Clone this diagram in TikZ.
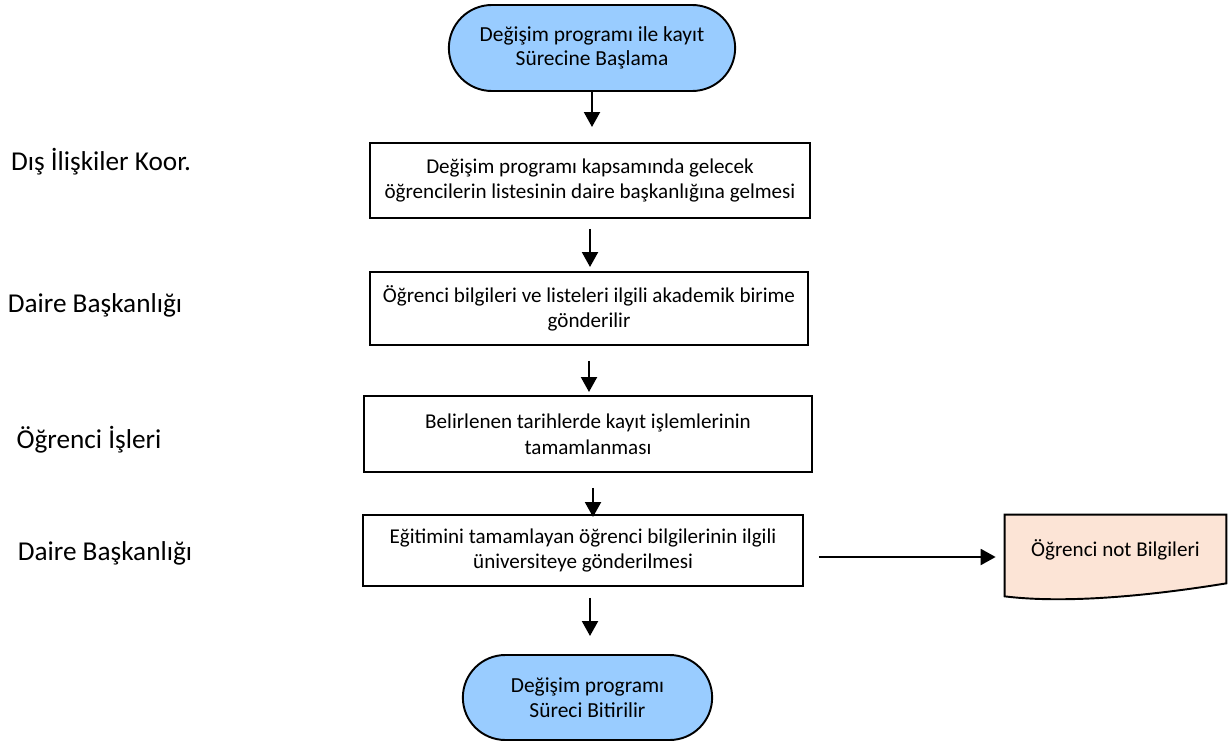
\documentclass[tikz,border=0pt]{standalone}
\usepackage{fontspec}
\setmainfont{Carlito}
\usepackage{tikz}
\usetikzlibrary{arrows.meta,backgrounds,shapes.misc}

\definecolor{termblue}{RGB}{153,204,255}
\definecolor{docpeach}{RGB}{252,228,214}

\begin{document}
\begin{tikzpicture}[
        terminal/.style={draw, line width=1.1pt, fill=termblue, rounded rectangle, align=center,
            font=\fontsize{12.2}{14}\selectfont},
        stepbox/.style={draw, line width=1.1pt, align=center, font=\fontsize{12}{14.6}\selectfont},
        lanelabel/.style={font=\fontsize{15.5}{18}\selectfont},
        flow/.style={line width=1.4pt, -{Triangle[width=9pt,length=8.5pt]}}
    ]
        \useasboundingbox (0,0) rectangle (24.58,-14.84);

        % lanes
        \node[lanelabel] (lab1) at (2.02, -3.24) {Dış İlişkiler Koor.};
        \node[lanelabel] (lab2) at (1.90, -6.10) {Daire Başkanlığı};
        \node[lanelabel] (lab3) at (1.78, -8.80) {Öğrenci İşleri};
        \node[lanelabel] (lab4) at (2.10, -11.06) {Daire Başkanlığı};

        % steps
        \node[terminal, minimum width=5.96cm, minimum height=1.72cm] (start) at (11.84, -0.96)
            {Değişim programı ile kayıt\\Sürecine Başlama};
        \node[stepbox, minimum width=8.8cm, minimum height=1.5cm] (s1) at (11.80, -3.61)
            {Değişim programı kapsamında gelecek\\öğrencilerin listesinin daire başkanlığına gelmesi};
        \node[stepbox, minimum width=8.76cm, minimum height=1.46cm] (s2) at (11.78, -6.17)
            {Öğrenci bilgileri ve listeleri ilgili akademik birime\\gönderilir};
        \node[stepbox, minimum width=8.96cm, minimum height=1.52cm] (s3) at (11.76, -8.68)
            {Belirlenen tarihlerde kayıt işlemlerinin\\tamamlanması};
        \node[stepbox, minimum width=8.8cm, minimum height=1.42cm] (s4) at (11.66, -11.01)
            {Eğitimini tamamlayan öğrenci bilgilerinin ilgili\\üniversiteye gönderilmesi};
        \node[terminal, minimum width=5.22cm, minimum height=1.70cm] (stop) at (11.75, -13.95)
            {Değişim programı\\Süreci Bitirilir};

        % document
        \node[minimum width=4.42cm, minimum height=1.62cm, inner sep=0pt] (doc) at (22.31, -11.11) {};
        \begin{scope}[on background layer]
            \draw[line width=1.1pt, fill=docpeach] (doc.north west) -- (doc.north east)
                -- ([yshift=0.26cm]doc.south east)
                .. controls (23.4,-11.85) and (21.5,-12.1) .. (doc.south west) -- cycle;
        \end{scope}
        \node[font=\fontsize{12}{14.6}\selectfont] (doctext) at (22.31, -11.0) {Öğrenci not Bilgileri};

        % connectors
        \draw[flow, shorten >=0.3cm] (start.south) -- (start.south |- s1.north);
        \draw[flow, shorten <=0.2cm, shorten >=0.08cm] (s1.south) -- (s1.south |- s2.north);
        \draw[flow, shorten <=0.3cm, shorten >=0.06cm] (s2.south) -- (s2.south |- s3.north);
        \draw[flow, shorten <=0.3cm, shorten >=-0.06cm] ([xshift=0.1cm]s3.south) -- ([xshift=0.1cm]s3.south |- s4.north);
        \draw[flow, shorten <=0.22cm, shorten >=0.36cm] ([xshift=0.14cm]s4.south) -- ([xshift=0.14cm]s4.south |- stop.north);
        \draw[flow, shorten <=0.3cm, shorten >=0.18cm] ([yshift=-0.13cm]s4.east) -- ([yshift=-0.13cm]s4.east -| doc.west);
    \end{tikzpicture}
\end{document}
